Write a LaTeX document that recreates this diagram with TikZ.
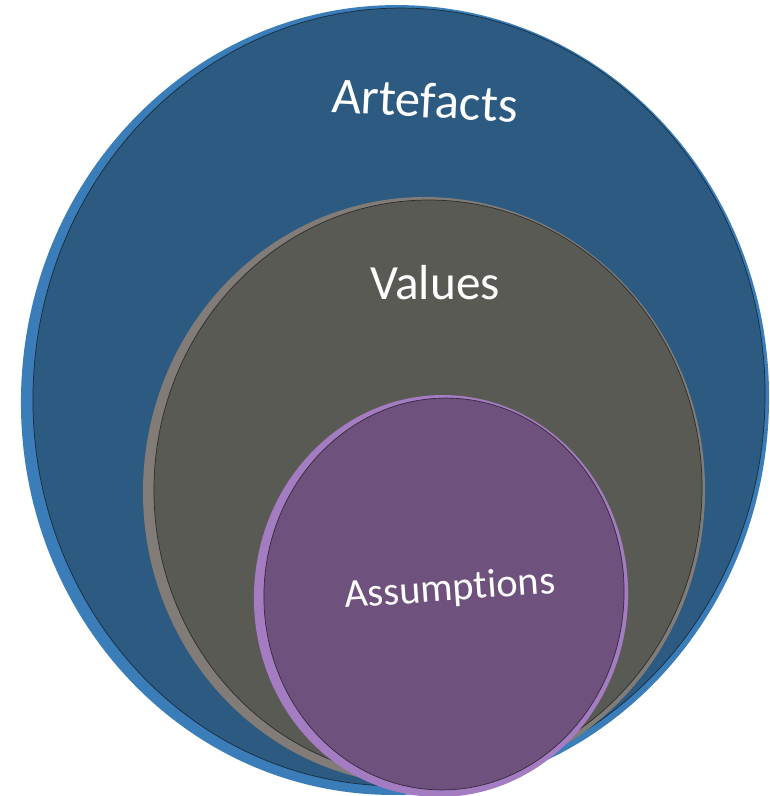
\documentclass[tikz,border=0pt]{standalone}
\usepackage{fontspec}
\setmainfont{Carlito}[Ligatures=NoCommon]
\usetikzlibrary{calc}

\definecolor{artfill}{HTML}{2C5A80}
\definecolor{artrim}{HTML}{3A7DB9}
\definecolor{valfill}{HTML}{5A5A55}
\definecolor{valrim}{HTML}{827C78}
\definecolor{asmfill}{HTML}{6E517C}
\definecolor{asmrim}{HTML}{A47CC2}

\tikzset{
  edge/.style={thin},
  label/.style={text=white,inner sep=0pt}
}

\begin{document}
\begin{tikzpicture}[x=0.02cm,y=-0.02cm]
\useasboundingbox (0,0) rectangle (769,796);
% outer ring
\fill[artrim] (395,400) ellipse [x radius=374, y radius=395, rotate=-3];
\fill[artfill] (399,397) ellipse [x radius=366, y radius=389, rotate=-3];
\draw[edge,black!50!artfill] (399,397) ellipse [x radius=366, y radius=389, rotate=-3];
% middle ring
\fill[valrim] (424,491) ellipse [x radius=281, y radius=294, rotate=-2];
\fill[valfill] (428,489) ellipse [x radius=274, y radius=289, rotate=-2];
\draw[edge,black!50!valfill] (428,489) ellipse [x radius=274, y radius=289, rotate=-2];
% inner ring
\fill[asmrim] (441,596) ellipse [x radius=187, y radius=201, rotate=-4];
\fill[asmfill] (444,594) ellipse [x radius=180, y radius=196, rotate=-4];
\draw[edge,black!50!asmfill] (444,594) ellipse [x radius=180, y radius=196, rotate=-4];
% texts
\node[label,font=\fontsize{29}{30}\selectfont,rotate=-3] (artefacts) at (425,100) {Artefacts};
\node[label,font=\fontsize{28}{30}\selectfont] (values) at (435,283) {Values};
\node[label,font=\fontsize{23}{25}\selectfont,rotate=4] (assumptions) at (450,590) {Assumptions};
\end{tikzpicture}
\end{document}
